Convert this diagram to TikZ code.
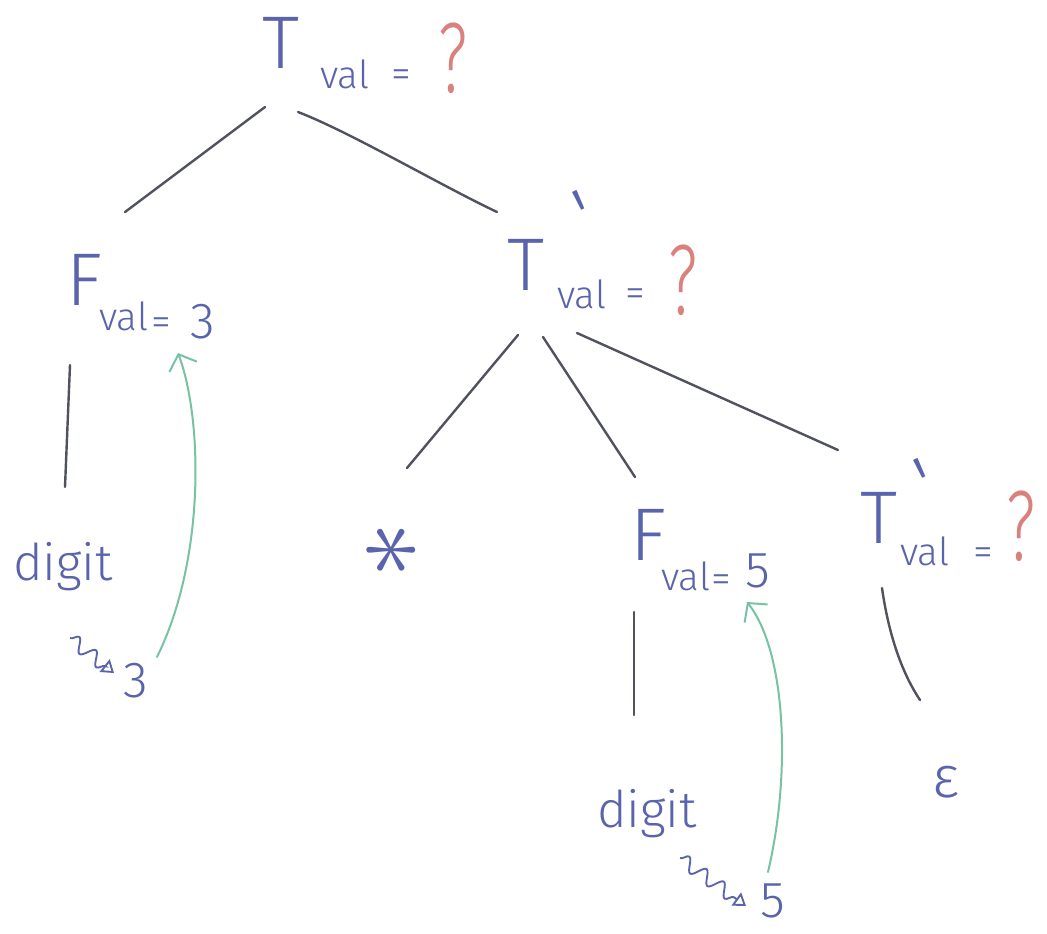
\documentclass[tikz,border=0pt]{standalone}
\usepackage{fontspec}
\usepackage{graphicx}
\usetikzlibrary{arrows.meta,decorations.pathmorphing}
\IfFontExistsTF{Fira Sans Light}{\newfontfamily\hand{Fira Sans Light}}{\newfontfamily\hand{Fira Sans}}
\definecolor{ink}{HTML}{5A64AD}
\definecolor{pen}{HTML}{50535E}
\definecolor{qred}{HTML}{D9817C}
\definecolor{grn}{HTML}{78C2A4}
\newcommand\fs[1]{\fontsize{#1}{#1}\selectfont}
\begin{document}
\begin{tikzpicture}[x=0.75pt,y=-0.75pt,
  txt/.style={inner sep=0pt, outer sep=0pt, anchor=base west, text=ink, font=\hand},
  sym/.style={txt, font=\hand\fs{56}},
  sub/.style={txt, font=\hand\fs{29}},
  eqs/.style={txt, font=\hand\fs{30}},
  qm/.style={txt, text=qred, font=\hand\fs{75}},
  num/.style={txt, font=\hand\fs{38}},
  word/.style={txt, font=\hand\fs{38}},
  primemark/.style={txt, anchor=center, font=\hand\fs{60}, rotate=25},
  epsnode/.style={txt, font=\hand\fs{44}},
  opstar/.style={inner sep=0pt, anchor=center, text=ink, rotate=90},
  edge/.style={pen, line width=1.8pt, line cap=round},
  synth/.style={grn, line width=1.5pt, line cap=round, -{Straight Barb[length=10pt,width=22pt]}},
  lex/.style={ink, line width=1.4pt, decorate, decoration={snake, amplitude=5pt, segment length=16pt, post length=7pt}, -{Triangle[open,length=9pt,width=12pt]}},
]
\fill[white] (0,0) rectangle (1047,933);
\useasboundingbox (0,0) rectangle (1047,933);

% root T.val = ?
\node[sym] (rT) at (262,68) {T};
\node[sub] (rV) at (320,88) {val};
\node[eqs] (rE) at (391,87) {=};
\node[qm]  (rQ) at (438,92) {\scalebox{0.65}[1]{?}};

% F.val = 3
\node[sym] (fT) at (66,305) {F};
\node[sub] (fV) at (99,330) {val};
\node[eqs] (fE) at (151,335) {=};
\node[num] (fN) at (190,338) {3};

% middle T'.val = ?
\node[sym] (mT) at (507,290) {T};
\node[primemark] (mP) at (586,216) {\textquotesingle};
\node[sub] (mV) at (557,308) {val};
\node[eqs] (mE) at (625,306) {=};
\node[qm]  (mQ) at (668,314) {\scalebox{0.65}[1]{?}};

% F.val = 5
\node[sym] (gT) at (630,560) {F};
\node[sub] (gV) at (661,590) {val};
\node[eqs] (gE) at (711,592) {=};
\node[num] (gN) at (745,587) {5};

% right T'.val = ?
\node[sym] (tT) at (860,543) {T};
\node[primemark] (tP) at (927,484) {\textquotesingle};
\node[sub] (tV) at (900,565) {val};
\node[eqs] (tE) at (973,565) {=};
\node[qm]  (tQ) at (1006,560) {\scalebox{0.65}[1]{?}};

% leaves
\node[word] (d1) at (13,580) {digit};
\node[num] (n3) at (123,697) {3};
\node[opstar] (st) at (393,550) {\scalebox{8.5}{$\ast$}};
\node[word] (d2) at (597,827) {digit};
\node[num] (n5) at (760,917) {5};
\node[epsnode] (ep) at (932,797) {ε};

% edge end points
\coordinate (rL) at (265,107);  \coordinate (fTop) at (125,212);
\coordinate (rR) at (298,112);  \coordinate (mTop) at (497,212);
\coordinate (mL) at (518,335);  \coordinate (stTop) at (407,468);
\coordinate (mM) at (543,337);  \coordinate (gTop) at (635,477);
\coordinate (mR) at (577,333);  \coordinate (tTop) at (838,450);
\coordinate (fBot) at (70,365); \coordinate (d1Top) at (65,487);
\coordinate (gBot) at (634,612);\coordinate (d2Top) at (634,715);
\coordinate (tBot) at (882,588);\coordinate (epTop) at (920,700);

\draw[edge] (rL) -- (fTop);
\draw[edge] (rR) .. controls (350,132) and (440,185) .. (mTop);
\draw[edge] (mL) -- (stTop);
\draw[edge] (mM) -- (gTop);
\draw[edge] (mR) -- (tTop);
\draw[edge] (fBot) -- (d1Top);
\draw[edge] (gBot) -- (d2Top);
\draw[edge] (tBot) .. controls (888,630) and (900,670) .. (epTop);

% lexval squiggles
\coordinate (s1a) at (70,638);  \coordinate (s1b) at (114,673);
\coordinate (s2a) at (680,858); \coordinate (s2b) at (746,906);
\draw[lex] (s1a) -- (s1b);
\draw[lex] (s2a) -- (s2b);

% synthesized flow arrows
\coordinate (g1s) at (157,657); \coordinate (g1e) at (178,353);
\coordinate (g2s) at (768,872); \coordinate (g2e) at (747,602);
\draw[synth] (g1s) .. controls (205,560) and (203,420) .. (g1e);
\draw[synth] (g2s) .. controls (792,770) and (785,650) .. (g2e);
\end{tikzpicture}
\end{document}
